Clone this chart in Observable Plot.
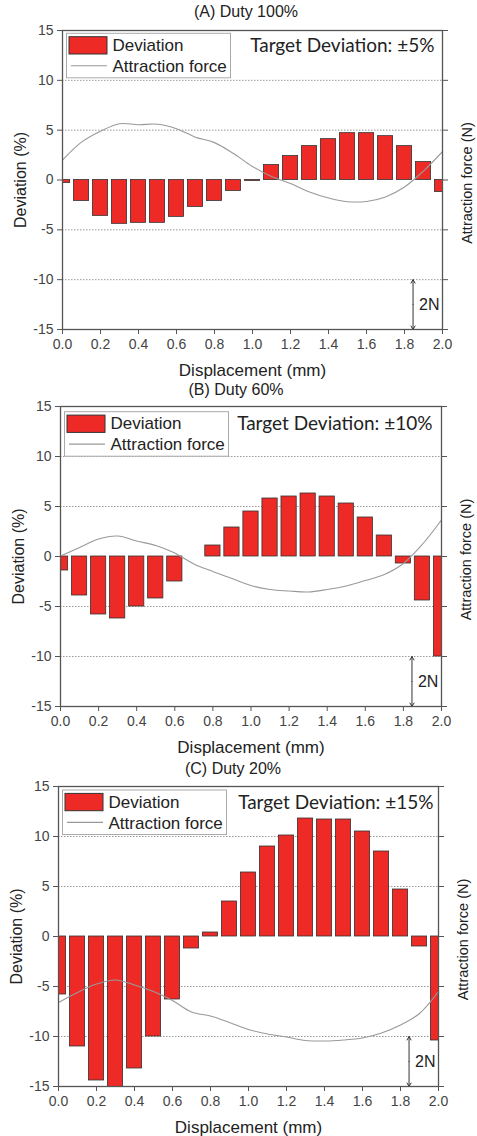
<!DOCTYPE html>
<html><head><meta charset="utf-8">
<script src="https://cdn.jsdelivr.net/npm/d3@7"></script>
<script src="https://cdn.jsdelivr.net/npm/@observablehq/plot@0.6"></script>
<style>
body{margin:0;background:#fff;font-family:"Liberation Sans",Arial,sans-serif;}
#root{position:relative;width:477px;height:1136px;overflow:hidden;}
.title{position:absolute;font-size:16px;color:#222;white-space:nowrap;transform:translate(-50%,-50%);line-height:18px;}
#root svg{position:absolute;left:0;}
</style></head><body><div id="root"></div>
<script>
// ---- data ----
const displacement = [0,0.1,0.2,0.3,0.4,0.5,0.6,0.7,0.8,0.9,1.0,1.1,1.2,1.3,1.4,1.5,1.6,1.7,1.8,1.9,2.0];
const titles = ["(A) Duty 100%","(B) Duty 60%","(C) Duty 20%"];
const targetLabels = ["Target Deviation: \u00b15%","Target Deviation: \u00b110%","Target Deviation: \u00b115%"];
const deviationA = [-0.3,-2.1,-3.6,-4.4,-4.3,-4.3,-3.7,-2.7,-2.1,-1.1,-0.1,1.5,2.4,3.4,4.1,4.7,4.7,4.4,3.4,1.8,-1.2];
const deviationB = [-1.4,-3.9,-5.8,-6.2,-5.0,-4.2,-2.5,0,1.1,2.9,4.5,5.8,6.0,6.3,6.0,5.3,3.9,2.1,-0.7,-4.4,-10.0];
const deviationC = [-5.8,-11.0,-14.4,-15.1,-13.2,-10.0,-6.3,-1.2,0.4,3.5,6.4,9.0,10.1,11.8,11.7,11.7,10.5,8.5,4.7,-1.0,-10.4];
// attraction force in N (relative, zero aligned with 0 % deviation)
const forceA = [0.8,1.52,1.96,2.26,2.22,2.24,2.06,1.72,1.5,1.06,0.54,0.14,-0.14,-0.48,-0.72,-0.87,-0.86,-0.68,-0.28,0.36,1.14];
const forceB = [0.02,0.36,0.7,0.82,0.62,0.44,0.14,-0.3,-0.6,-0.88,-1.16,-1.32,-1.38,-1.42,-1.32,-1.18,-0.96,-0.72,-0.28,0.49,1.46];
const forceC = [-2.64,-2.24,-1.9,-1.74,-1.94,-2.2,-2.56,-3.02,-3.18,-3.44,-3.72,-3.9,-4.02,-4.16,-4.18,-4.14,-4.06,-3.86,-3.54,-3.08,-2.2];
const xTicks = [0,0.2,0.4,0.6,0.8,1.0,1.2,1.4,1.6,1.8,2.0];
const yTicks = [-15,-10,-5,0,5,10,15];
const gridTicks = [-10,-5,5,10];
const legendLabels = ["Deviation","Attraction force"];
const xLabel = "Displacement (mm)";
const yLabel = "Deviation (%)";
const y2Label = "Attraction force (N)";
const scaleBar = {x: 1.845, newtons: 2, top: -10, label: "2N"};
const devPerNewton = 5 / 2; // 2 N spans 5 % on the deviation axis

// ---- layout ----
const deviations = [deviationA, deviationB, deviationC];
const forces = [forceA, forceB, forceC];
const layout = [
  {svgTop: 18,  mt: 12, fh: 299, ml: 62, mr: 35, titleX: 246, titleY: 12,  legTop: 3.3, tgtDx: -8, tgtDy: 7.5},
  {svgTop: 394, mt: 12, fh: 300, ml: 60, mr: 36, titleX: 236, titleY: 390, legTop: 5.7, tgtDx: -9, tgtDy: 9.5},
  {svgTop: 774, mt: 12, fh: 300, ml: 58, mr: 39, titleX: 233, titleY: 769, legTop: 4,   tgtDx: -5, tgtDy: 9}
];
const RED = "#ee2a27";
const FONT = "'Liberation Sans', Arial, sans-serif";
const root = document.getElementById("root");

layout.forEach((lay, i) => {
  const bars = displacement.map((x, j) => ({x, dev: deviations[i][j]}));
  const force = displacement.map((x, j) => ({x, f: forces[i][j]}));
  const sbMid = scaleBar.top - scaleBar.newtons * devPerNewton / 2;
  const sbBottom = scaleBar.top - scaleBar.newtons * devPerNewton;
  const H = lay.mt + lay.fh + 50;
  const svg = Plot.plot({
    width: 477, height: H,
    marginTop: lay.mt, marginBottom: 50, marginLeft: lay.ml, marginRight: lay.mr,
    style: {fontFamily: FONT, fontSize: "14px", color: "#444", background: "transparent"},
    x: {domain: [0, 2]},
    y: {domain: [-15, 15]},
    marks: [
      Plot.gridY(gridTicks, {stroke: "#999", strokeOpacity: 1, strokeDasharray: "1.5,1.5"}),
      Plot.rect(bars, {x1: d => d.x - 0.04, x2: d => d.x + 0.04, y1: d => 0, y2: "dev",
        fill: RED, stroke: "#333", strokeWidth: 0.8, clip: true}),
      Plot.line(force, {x: "x", y: d => d.f * devPerNewton, stroke: "#999", strokeWidth: 1.1,
        curve: "catmull-rom", clip: true}),
      Plot.arrow([scaleBar], {x1: "x", x2: "x", y1: () => sbMid, y2: d => d.top,
        stroke: "#333", strokeWidth: 1, headLength: 6}),
      Plot.arrow([scaleBar], {x1: "x", x2: "x", y1: () => sbMid, y2: () => sbBottom,
        stroke: "#333", strokeWidth: 1, headLength: 6}),
      Plot.text([scaleBar], {x: "x", y: () => sbMid, text: "label", dx: 6, textAnchor: "start",
        fontSize: 16, fill: "#222"}),
      Plot.frame({stroke: "#555", strokeWidth: 1.3}),
      Plot.axisX({ticks: xTicks, tickFormat: d3.format(".1f"), tickSize: 5, tickPadding: 5,
        label: null, stroke: "#555", fontSize: 14}),
      Plot.axisY({anchor: "left", ticks: yTicks, tickFormat: d => String(d), tickSize: 5,
        tickPadding: 4, label: null, stroke: "#555", fontSize: 14}),
      Plot.axisY({anchor: "right", ticks: yTicks, tickFormat: () => "", tickSize: 5,
        label: null, stroke: "#555"}),
      Plot.text([xLabel], {text: d => d, frameAnchor: "bottom", dy: 46, fontSize: 17, fill: "#222"}),
      Plot.text([yLabel], {text: d => d, frameAnchor: "left", dx: -42, rotate: -90, textAnchor: "middle",
        lineAnchor: "middle", fontSize: 16, fill: "#222"}),
      Plot.text([y2Label], {text: d => d, frameAnchor: "right", dx: 24.5, dy: 3, rotate: -90, textAnchor: "middle",
        lineAnchor: "middle", fontSize: 14.5, fill: "#222"}),
      Plot.text([targetLabels[i]], {text: d => d, frameAnchor: "top-right", dx: lay.tgtDx, dy: lay.tgtDy,
        textAnchor: "end", fontFamily: "Lato", fontSize: 19, fill: "#222"})
    ]
  });
  svg.style.top = lay.svgTop + "px";
  // legend inside the frame
  const g = d3.select(svg).append("g")
    .attr("transform", `translate(${lay.ml + 4.5},${lay.mt + lay.legTop})`)
    .attr("font-family", FONT).attr("font-size", 17).attr("fill", "#222")
    .attr("text-anchor", "start");
  g.append("rect").attr("width", 164).attr("height", 44.5).attr("fill", "#fff").attr("stroke", "#aaa").attr("stroke-width", 1);
  g.append("rect").attr("x", 2.5).attr("y", 3.4).attr("width", 38).attr("height", 17.3)
    .attr("fill", RED).attr("stroke", "#333").attr("stroke-width", 1);
  g.append("text").attr("x", 46).attr("y", 17.7).attr("text-anchor", "start").text(legendLabels[0]);
  g.append("line").attr("x1", 4.5).attr("x2", 40.5).attr("y1", 32.4).attr("y2", 32.4)
    .attr("stroke", "#999").attr("stroke-width", 1.1);
  g.append("text").attr("x", 46).attr("y", 38.7).attr("text-anchor", "start").text(legendLabels[1]);
  root.appendChild(svg);

  const t = document.createElement("div");
  t.className = "title";
  t.textContent = titles[i];
  t.style.left = lay.titleX + "px";
  t.style.top = lay.titleY + "px";
  root.appendChild(t);
});
</script>
</body></html>
